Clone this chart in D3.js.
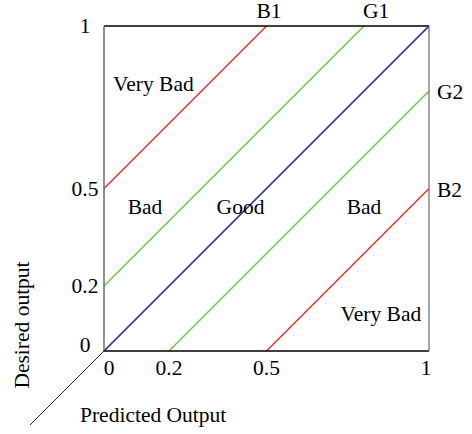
<!DOCTYPE html>
<html><head><meta charset="utf-8">
<script src="https://cdn.jsdelivr.net/npm/d3@7"></script>
<style>body{margin:0;background:#fff}svg{display:block}text{font-family:"Liberation Serif","Times New Roman",serif;fill:#000}</style>
</head><body>
<svg id="c" width="472" height="434"></svg>
<script>
// Data
const xTicks = [0, 0.2, 0.5, 1];
const xTickLabels = ["0", "0.2", "0.5", "1"];
const yTicks = [0, 0.2, 0.5, 1];
const yTickLabels = ["0", "0.2", "0.5", "1"];
const lineNames = ["B1", "G1", "Ideal", "G2", "B2"];
const lineOffsets = [0.5, 0.2, 0, -0.2, -0.5]; // desired = predicted + offset
const lineKinds = ["bad", "good", "ideal", "good", "bad"];
const regionNames = ["Very Bad", "Bad", "Good", "Bad", "Very Bad"];
const regionX = [0.152, 0.126, 0.42, 0.80, 0.852];
const regionY = [0.82, 0.44, 0.44, 0.44, 0.11];
const xTitle = "Predicted Output";
const yTitle = "Desired output";

const svg = d3.select("#c");
const x = d3.scaleLinear().domain([0, 1]).range([104, 429]);
const y = d3.scaleLinear().domain([0, 1]).range([351, 26]);
const colors = {bad: "#ff1a1a", good: "#5cc83a", ideal: "#1f35a0"};
const widths = {bad: 1.2, good: 1.2, ideal: 1.7};
const fs = 21.5;

// 3D-like depth axis from origin
svg.append("line").attr("x1", x(0)).attr("y1", y(0)).attr("x2", x(0) - 74).attr("y2", y(0) + 74)
  .attr("stroke", "#222").attr("stroke-width", 1);

// diagonal lines clipped to unit square
lineOffsets.forEach((o, i) => {
  const x0 = Math.max(0, -o), x1 = Math.min(1, 1 - o);
  svg.append("line")
    .attr("x1", x(x0)).attr("y1", y(x0 + o))
    .attr("x2", x(x1)).attr("y2", y(x1 + o))
    .attr("stroke", colors[lineKinds[i]]).attr("stroke-width", widths[lineKinds[i]]);
});

// frame
svg.append("line").attr("x1", x(0)).attr("x2", x(1)).attr("y1", y(1)).attr("y2", y(1)).attr("stroke", "#000").attr("stroke-width", 1.3);
svg.append("line").attr("x1", x(0)).attr("x2", x(1)).attr("y1", y(0)).attr("y2", y(0)).attr("stroke", "#000").attr("stroke-width", 1.3);
svg.append("line").attr("x1", x(0)).attr("x2", x(0)).attr("y1", y(0)).attr("y2", y(1)).attr("stroke", "#555").attr("stroke-width", 1.3);
svg.append("line").attr("x1", x(1)).attr("x2", x(1)).attr("y1", y(0)).attr("y2", y(1)).attr("stroke", "#777").attr("stroke-width", 1.3);

// line labels
lineOffsets.forEach((o, i) => {
  if (lineKinds[i] === "ideal") return;
  const g = svg.append("text").attr("font-size", fs).text(lineNames[i]);
  if (o > 0) {
    g.attr("x", x(1 - o) + (o >= 0.5 ? -10 : -1)).attr("y", y(1) - 8);
  } else {
    g.attr("x", x(1) + 8).attr("y", y(1 + o) + 8);
  }
});

// region labels
regionNames.forEach((n, i) => {
  svg.append("text").attr("font-size", fs).attr("text-anchor", "middle")
    .attr("x", x(regionX[i])).attr("y", y(regionY[i]) + 6).text(n);
});

// tick labels
xTicks.forEach((t, i) => {
  svg.append("text").attr("font-size", fs).attr("text-anchor", "middle")
    .attr("x", x(t) + (t === 0 ? 5 : t === 1 ? -3 : 0)).attr("y", 375).text(xTickLabels[i]);
});
yTicks.forEach((t, i) => {
  svg.append("text").attr("font-size", fs).attr("text-anchor", "middle")
    .attr("x", 85).attr("y", Math.min(y(t), y(0) - 6) + 7).text(yTickLabels[i]);
});

// titles
svg.append("text").attr("font-size", fs).attr("x", 80).attr("y", 422).text(xTitle);
svg.append("text").attr("font-size", fs).attr("text-anchor", "middle")
  .attr("transform", "translate(29,325) rotate(-90)").text(yTitle);
</script>
</body></html>
